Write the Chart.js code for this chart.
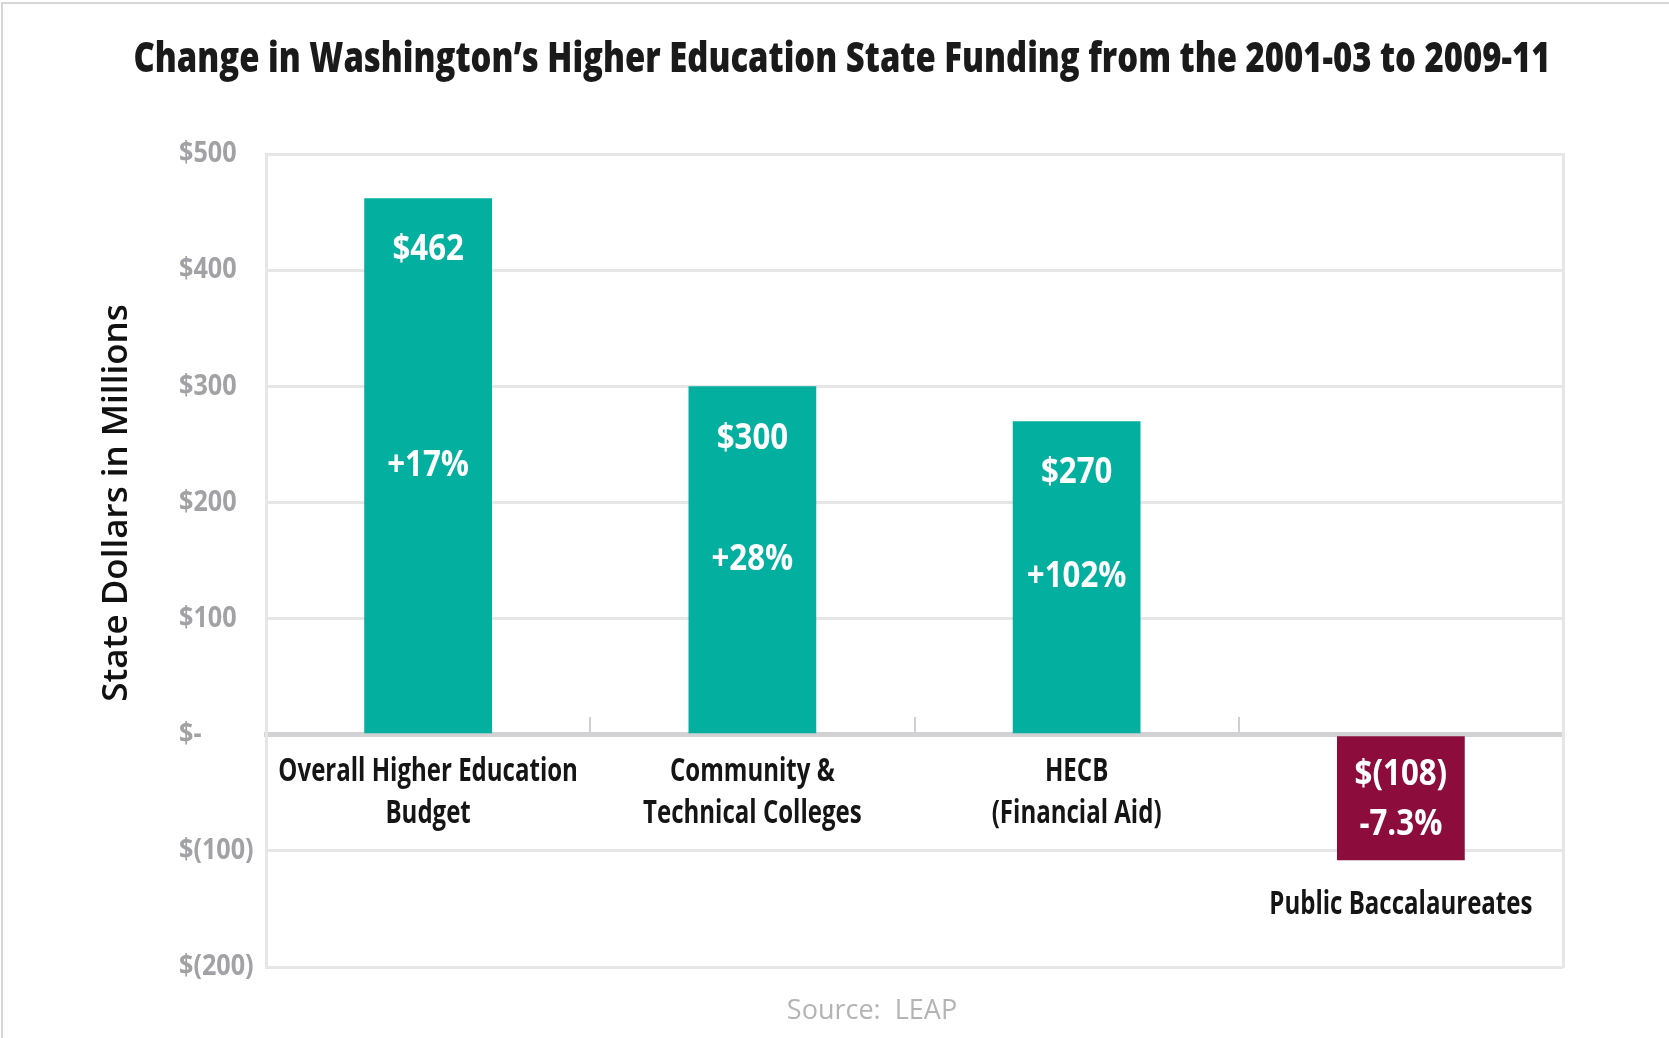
<!DOCTYPE html>
<html>
<head>
<meta charset="utf-8">
<script src="https://cdn.jsdelivr.net/npm/chart.js@4.4.0/dist/chart.umd.min.js"></script>
<style>
  html, body { margin: 0; padding: 0; background: #fff; }
  #wrap { position: relative; width: 1669px; height: 1038px; overflow: hidden; }
  #frame {
    position: absolute; left: 1px; top: 2px; right: -10px; bottom: -10px;
    border-top: 2px solid #d6d6d6; border-left: 2px solid #d6d6d6;
    pointer-events: none;
  }
</style>
</head>
<body>
<div id="wrap">
  <canvas id="chart" width="1669" height="1038"></canvas>
  <div id="frame"></div>
</div>
<script>
const categories = [
  ["Overall Higher Education", "Budget"],
  ["Community &", "Technical Colleges"],
  ["HECB", "(Financial Aid)"],
  ["Public Baccalaureates"]
]
// change in state dollars, millions
const changeDollars = [462, 300, 270, -108]
// percent change
const changePct = [17, 28, 102, -7.3]

const yMin = -200
const yMax = 500
const yStep = 100

const TITLE = "Change in Washington\u2019s Higher Education State Funding from the 2001-03 to 2009-11"
const TEAL = "#03af9f"
const MAROON = "#8c0d3b"
const GRID = "#e6e6e8"
const FACE = "'Open Sans', 'Noto Sans', sans-serif"

const money = (v) => (v === 0 ? "$-" : v < 0 ? `$(${-v})` : `$${v}`)
const pct = (v) => (v > 0 ? `+${v}%` : `${v}%`)

// the original uses a condensed face; squeeze Open Sans Bold horizontally instead
let squeeze = 0.66
let titleSqueeze = 0.66
function squeezedText(ctx, text, x, y, align, k) {
  const w = ctx.measureText(text).width * k
  const left = align === "center" ? x - w / 2 : align === "right" ? x - w : x
  ctx.save()
  ctx.translate(left, y)
  ctx.scale(k, 1)
  ctx.textAlign = "left"
  ctx.fillText(text, 0, 0)
  ctx.restore()
}

const textLayer = {
  id: "textLayer",
  beforeDraw(chart) {
    const ctx = chart.ctx
    ctx.save()
    ctx.font = `bold 39px ${FACE}`
    squeeze = 1417 / ctx.measureText(TITLE).width
    ctx.font = `800 42px ${FACE}`
    titleSqueeze = 1417 / ctx.measureText(TITLE).width
    ctx.restore()
  },
  afterDatasetsDraw(chart) {
    const ctx = chart.ctx
    const meta = chart.getDatasetMeta(0)
    ctx.save()
    ctx.fillStyle = "#ffffff"
    ctx.textBaseline = "middle"
    ctx.font = `bold 36px ${FACE}`
    meta.data.forEach((bar, i) => {
      const v = changeDollars[i]
      let y1, y2
      if (v >= 0) {
        y1 = bar.y + 52
        y2 = (bar.y + bar.base) / 2
      } else {
        const mid = (bar.y + bar.base) / 2
        y1 = mid - 23
        y2 = mid + 27
      }
      squeezedText(ctx, money(v), bar.x, y1, "center", squeeze)
      squeezedText(ctx, pct(changePct[i]), bar.x, y2, "center", squeeze)
    })
    ctx.restore()
  },
  afterDraw(chart) {
    const ctx = chart.ctx
    const { x, y } = chart.scales
    const zero = y.getPixelForValue(0)

    // title
    ctx.save()
    ctx.fillStyle = "#1a1a1a"
    ctx.textBaseline = "middle"
    ctx.font = `800 42px ${FACE}`
    squeezedText(ctx, TITLE, 842, 60, "center", titleSqueeze)
    ctx.restore()

    // value axis labels
    ctx.save()
    ctx.fillStyle = "#a2a2a6"
    ctx.textBaseline = "middle"
    ctx.font = `bold 29px ${FACE}`
    y.ticks.forEach((t) => {
      squeezedText(ctx, money(t.value), 179, y.getPixelForValue(t.value), "left", squeeze)
    })
    ctx.restore()

    // category labels, under the axis, or under the bar when it hangs below
    const meta = chart.getDatasetMeta(0)
    ctx.save()
    ctx.fillStyle = "#151515"
    ctx.textBaseline = "middle"
    ctx.font = `bold 32px ${FACE}`
    categories.forEach((lines, i) => {
      const cx = x.getPixelForValue(i)
      const bar = meta.data[i]
      const top = changeDollars[i] < 0 ? bar.y + 45 : zero + 37
      lines.forEach((line, k) => squeezedText(ctx, line, cx, top + k * 42, "center", squeeze * 0.865))
    })
    ctx.restore()

    // y axis title
    ctx.save()
    ctx.translate(117, 503)
    ctx.rotate(-Math.PI / 2)
    ctx.fillStyle = "#111111"
    ctx.textAlign = "center"
    ctx.textBaseline = "middle"
    ctx.font = `600 35px ${FACE}`
    ctx.fillText("State Dollars in Millions", 0, 0)
    ctx.restore()

    // source
    ctx.save()
    ctx.fillStyle = "#b4b4b6"
    ctx.textAlign = "center"
    ctx.textBaseline = "middle"
    ctx.font = `27px ${FACE}`
    ctx.fillText("Source:  LEAP", 872, 1011)
    ctx.restore()
  },
}

new Chart(document.getElementById("chart"), {
  type: "bar",
  data: {
    labels: categories,
    datasets: [
      {
        data: changeDollars,
        backgroundColor: changeDollars.map((v) => (v < 0 ? MAROON : TEAL)),
        borderWidth: 0,
        categoryPercentage: 1,
        barPercentage: 0.394,
      },
    ],
  },
  options: {
    responsive: false,
    animation: false,
    devicePixelRatio: 1,
    layout: {
      padding: { left: 0, right: 0, top: 154, bottom: 71 },
    },
    plugins: {
      legend: { display: false },
      tooltip: { enabled: false },
      title: { display: false },
    },
    scales: {
      x: {
        position: { y: 0 },
        z: 1,
        grid: {
          drawOnChartArea: false,
          drawTicks: true,
          tickLength: -20,
          color: "#cfcfd1",
          lineWidth: 2,
        },
        border: { color: "#d2d2d4", width: 5 },
        ticks: { display: false },
      },
      y: {
        min: yMin,
        max: yMax,
        afterFit: (scale) => {
          scale.width = 266
        },
        grid: {
          drawTicks: false,
          color: (c) => (c.tick && c.tick.value === 0 ? "rgba(0,0,0,0)" : GRID),
          lineWidth: 3,
        },
        border: { color: GRID, width: 3 },
        ticks: { stepSize: yStep, display: false },
      },
      y2: {
        position: "right",
        min: yMin,
        max: yMax,
        afterFit: (scale) => {
          scale.width = 106
        },
        grid: { drawOnChartArea: false, drawTicks: false },
        border: { color: GRID, width: 3 },
        ticks: { display: false },
      },
    },
  },
  plugins: [textLayer],
})
</script>
</body>
</html>
